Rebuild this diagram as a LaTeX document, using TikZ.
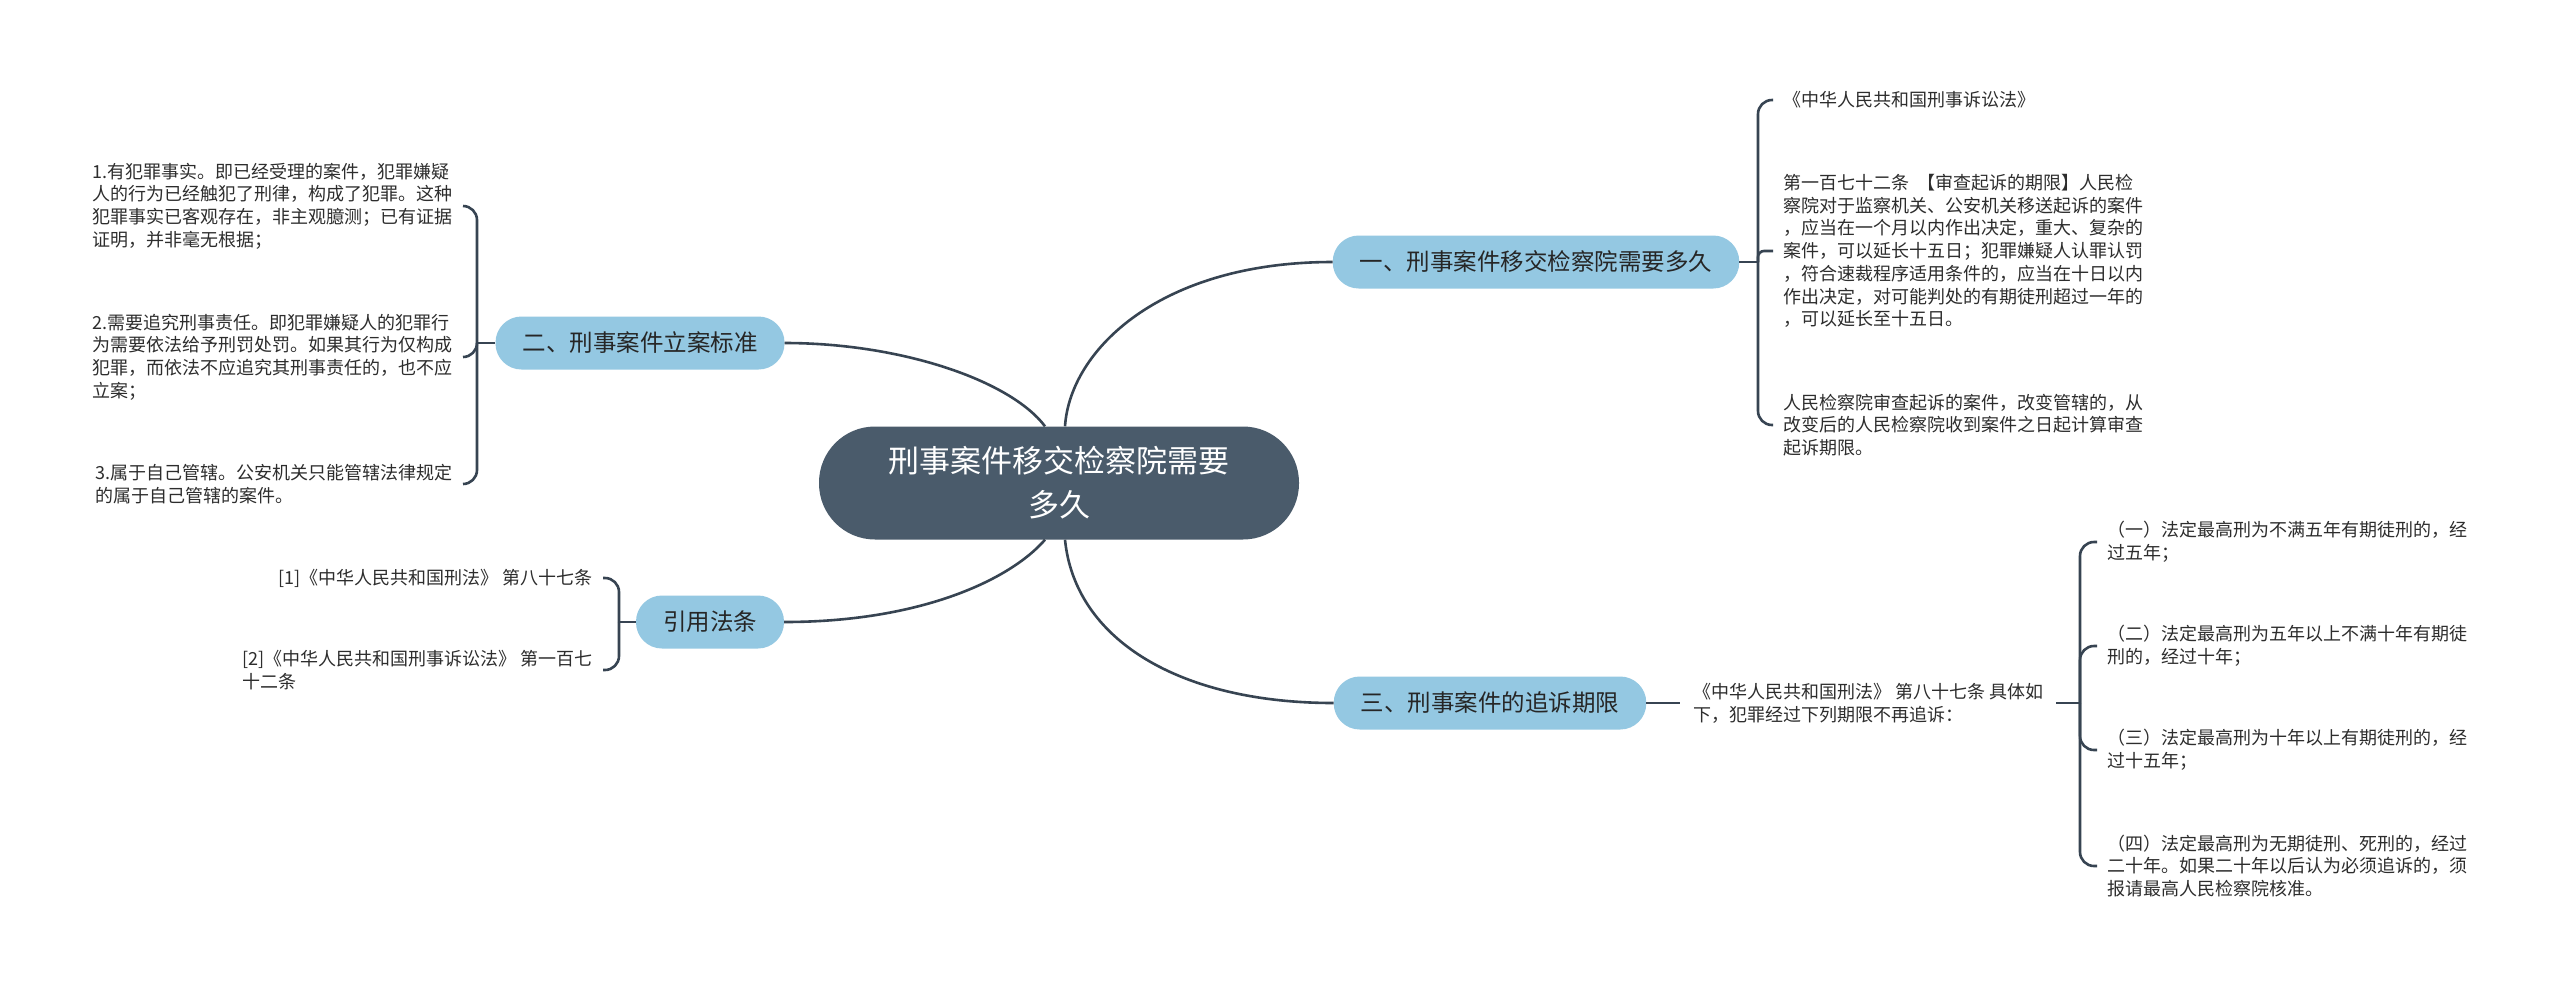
\documentclass[tikz,border=0pt]{standalone}
\usepackage{fontspec}
\setmainfont{Noto Sans CJK SC}

\definecolor{hubfill}{RGB}{74,91,107}
\definecolor{topicfill}{RGB}{148,200,226}
\definecolor{linkcol}{RGB}{55,68,82}
\definecolor{txtcol}{RGB}{45,45,45}

\tikzset{
  hub/.style={fill=hubfill, text=white, rounded corners=56pt, minimum width=480pt,
    minimum height=113pt, align=center, font=\fontsize{31}{44}\selectfont},
  topic/.style={fill=topicfill, text=black!85, rounded corners=26pt, minimum height=53pt,
    inner xsep=27pt, font=\fontsize{23.5}{28}\selectfont},
  leaf/.style={align=left, inner xsep=10pt, inner ysep=2pt, text=txtcol,
    font=\fontsize{18}{22.7}\selectfont},
  link/.style={draw=linkcol, line width=2.6pt},
  fork/.style={link, rounded corners=14pt},
}

\begin{document}
\begin{tikzpicture}[x=1pt, y=-1pt]
  \fill[white] (0,0) rectangle (2560,989);
  \useasboundingbox (0,0) rectangle (2560,989);

  % centre and main topics
  \node[hub] (c) at (1059,483) {刑事案件移交检察院需要\\多久};
  \node[topic] (t1) at (1536,262) {一、刑事案件移交检察院需要多久};
  \node[topic] (t2) at (640,343) {二、刑事案件立案标准};
  \node[topic] (t3) at (710,622) {引用法条};
  \node[topic] (t4) at (1490,703) {三、刑事案件的追诉期限};

  \draw[link] ([xshift=6pt]c.north) .. controls (1070,350) and (1160,262) .. (t1.west);
  \draw[link] ([xshift=-14pt]c.north) .. controls (1010,380) and (900,343) .. (t2.east);
  \draw[link] ([xshift=-14pt]c.south) .. controls (1010,580) and (920,622) .. (t3.east);
  \draw[link] ([xshift=6pt]c.south) .. controls (1075,640) and (1180,703) .. (t4.west);

  % topic one
  \coordinate (j1) at (1758,262);
  \node[leaf, anchor=west] (a1) at (1773,100) {《中华人民共和国刑事诉讼法》};
  \node[leaf, anchor=west] (a2) at (1773,251) {第一百七十二条~~【审查起诉的期限】人民检\\察院对于监察机关、公安机关移送起诉的案件\\，应当在一个月以内作出决定，重大、复杂的\\案件，可以延长十五日；犯罪嫌疑人认罪认罚\\，符合速裁程序适用条件的，应当在十日以内\\作出决定，对可能判处的有期徒刑超过一年的\\，可以延长至十五日。};
  \node[leaf, anchor=west] (a3) at (1773,425) {人民检察院审查起诉的案件，改变管辖的，从\\改变后的人民检察院收到案件之日起计算审查\\起诉期限。};
  \draw[link] (t1.east) -- (j1);
  \draw[fork] (j1) |- (a1.west);
  \draw[fork, rounded corners=6pt] (j1) |- (a2.west);
  \draw[fork] (j1) |- (a3.west);

  % topic two
  \coordinate (j2) at (477,343);
  \node[leaf, anchor=east] (b1) at (463,206) {1.有犯罪事实。即已经受理的案件，犯罪嫌疑\\人的行为已经触犯了刑律，构成了犯罪。这种\\犯罪事实已客观存在，非主观臆测；已有证据\\证明，并非毫无根据；};
  \node[leaf, anchor=east] (b2) at (463,357) {2.需要追究刑事责任。即犯罪嫌疑人的犯罪行\\为需要依法给予刑罚处罚。如果其行为仅构成\\犯罪，而依法不应追究其刑事责任的，也不应\\立案；};
  \node[leaf, anchor=east] (b3) at (463,484) {3.属于自己管辖。公安机关只能管辖法律规定\\的属于自己管辖的案件。};
  \draw[link] (t2.west) -- (j2);
  \foreach \n in {b1,b2,b3}
    \draw[fork] (j2) |- (\n.east);

  % cited articles
  \coordinate (j3) at (619,622);
  \node[leaf, anchor=east] (r1) at (603,578) {[1]《中华人民共和国刑法》 第八十七条};
  \node[leaf, anchor=east] (r2) at (603,670) {[2]《中华人民共和国刑事诉讼法》 第一百七\\十二条};
  \draw[link] (t3.west) -- (j3);
  \foreach \n in {r1,r2}
    \draw[fork] (j3) |- (\n.east);

  % topic three
  \coordinate (j4) at (2080,703);
  \node[leaf, anchor=west, inner xsep=13pt] (d0) at (1680,703) {《中华人民共和国刑法》 第八十七条 具体如\\下，犯罪经过下列期限不再追诉：};
  \node[leaf, anchor=west] (d1) at (2097,542) {（一）法定最高刑为不满五年有期徒刑的，经\\过五年；};
  \node[leaf, anchor=west] (d2) at (2097,646) {（二）法定最高刑为五年以上不满十年有期徒\\刑的，经过十年；};
  \node[leaf, anchor=west] (d3) at (2097,750) {（三）法定最高刑为十年以上有期徒刑的，经\\过十五年；};
  \node[leaf, anchor=west] (d4) at (2097,866) {（四）法定最高刑为无期徒刑、死刑的，经过\\二十年。如果二十年以后认为必须追诉的，须\\报请最高人民检察院核准。};
  \draw[link] (t4.east) -- (d0.west);
  \draw[link] (d0.east) -- (j4);
  \foreach \n in {d1,d2,d3,d4}
    \draw[fork] (j4) |- (\n.west);
\end{tikzpicture}
\end{document}
